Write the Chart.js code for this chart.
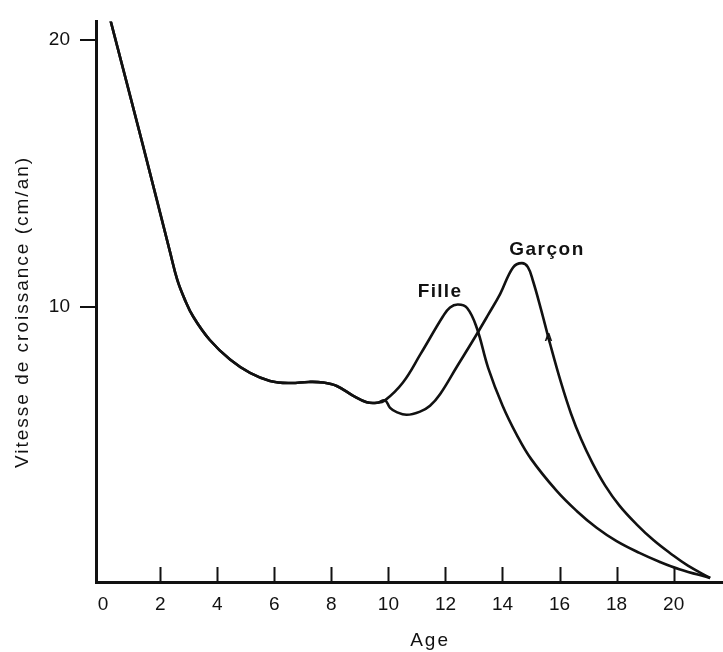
<!DOCTYPE html>
<html>
<head>
<meta charset="utf-8">
<script src="https://cdn.jsdelivr.net/npm/chart.js@4.4.1/dist/chart.umd.min.js"></script>
<style>
html, body { margin: 0; padding: 0; background: #fff; }
#wrap { width: 723px; height: 652px; position: relative; }
</style>
</head>
<body>
<div id="wrap"><canvas id="myChart"></canvas></div>
<script>
const xTicks = [0, 2, 4, 6, 8, 10, 12, 14, 16, 18, 20];
const yTicks = [10, 20];

// shared part of the curve (birth to ~10 years)
const commonAge   = [0.25, 1.4, 2.34, 2.6, 2.85, 3.16, 3.74, 4.45, 5.15, 5.85, 6.55, 7.2, 7.7, 8.19, 8.77, 9.24, 9.6, 9.88];
const commonSpeed = [20.75, 16.02, 12.07, 11.0, 10.3, 9.62, 8.75, 8.02, 7.52, 7.22, 7.14, 7.18, 7.16, 7.03, 6.66, 6.42, 6.4, 6.49];

const filleAge   = [10.51, 11.13, 11.91, 12.16, 12.44, 12.76, 13.1, 13.5, 14.0, 14.5, 15.0, 15.9, 16.6, 17.3, 18.0, 18.8, 19.5, 20.2, 21.28];
const filleSpeed = [7.16, 8.23, 9.63, 9.97, 10.08, 9.95, 9.2, 7.7, 6.3, 5.2, 4.3, 3.1, 2.35, 1.72, 1.22, 0.78, 0.45, 0.17, -0.16];

const garconAge   = [10.06, 10.29, 10.64, 11.11, 11.46, 11.81, 12.4, 12.97, 13.5, 13.92, 14.37, 14.68, 14.89, 15.07, 15.35, 15.67, 16.05, 16.4, 16.75, 17.15, 17.6, 18.1, 18.7, 19.3, 19.9, 20.5, 21.28];
const garconSpeed = [6.21, 6.05, 5.95, 6.07, 6.29, 6.72, 7.75, 8.74, 9.7, 10.48, 11.47, 11.63, 11.48, 10.96, 9.9, 8.6, 7.16, 6.0, 5.05, 4.15, 3.3, 2.55, 1.85, 1.25, 0.75, 0.3, -0.16];

const seriesNames = ['Fille', 'Garçon'];

function toPoints(ages, speeds) {
  return ages.map((a, i) => ({ x: a, y: speeds[i] }));
}

const ink = '#111';
const fontFamily = '"Liberation Sans", Arial, Helvetica, sans-serif';

// inward tick marks on the x axis, titles and curve labels
const decor = {
  id: 'decor',
  afterDraw(chart) {
    const c = chart.ctx;
    const xs = chart.scales.x, ys = chart.scales.y;
    const bottom = chart.chartArea.bottom;
    c.save();
    c.strokeStyle = ink;
    c.lineWidth = 2;
    xTicks.forEach(v => {
      if (v === 0) return;
      const px = Math.round(xs.getPixelForValue(v)) + 0.5;
      c.beginPath();
      c.moveTo(px, bottom);
      c.lineTo(px, bottom - 15);
      c.stroke();
    });

    c.fillStyle = ink;
    c.textAlign = 'center';
    c.textBaseline = 'middle';

    c.font = 'bold 19px ' + fontFamily;
    c.letterSpacing = '1.3px';
    c.fillText(seriesNames[0], xs.getPixelForValue(11.81), ys.getPixelForValue(10.55));
    c.letterSpacing = '1.5px';
    c.fillText(seriesNames[1], xs.getPixelForValue(15.56), ys.getPixelForValue(12.14));

    c.letterSpacing = '0px';
    c.font = 'bold 11px ' + fontFamily;
    c.fillText('A', xs.getPixelForValue(15.61), ys.getPixelForValue(8.82));

    c.font = '19px ' + fontFamily;
    c.letterSpacing = '2px';
    c.fillText('Age', xs.getPixelForValue(11.46), 641);

    c.translate(23, ys.getPixelForValue(9.8));
    c.rotate(-Math.PI / 2);
    c.fillText('Vitesse de croissance (cm/an)', 0, 0);
    c.restore();
  }
};

const ctx = document.getElementById('myChart');

new Chart(ctx, {
  type: 'line',
  data: {
    datasets: [
      { label: seriesNames[0], data: toPoints(commonAge.concat(filleAge), commonSpeed.concat(filleSpeed)) },
      { label: seriesNames[1], data: toPoints(commonAge.concat(garconAge), commonSpeed.concat(garconSpeed)) }
    ]
  },
  options: {
    responsive: true,
    maintainAspectRatio: false,
    animation: false,
    layout: { padding: { top: 14, right: 0, left: 0, bottom: 0 } },
    elements: {
      line: { borderColor: ink, borderWidth: 2.6, tension: 0.4, fill: false },
      point: { radius: 0, hoverRadius: 0 }
    },
    plugins: { legend: { display: false }, tooltip: { enabled: false } },
    scales: {
      x: {
        type: 'linear',
        min: -0.25,
        max: 21.73,
        afterBuildTicks: s => { s.ticks = xTicks.map(v => ({ value: v })); },
        afterFit: s => { s.height = 70; },
        grid: { display: false, drawTicks: false },
        border: { display: true, color: ink, width: 3 },
        ticks: { color: ink, padding: 11, maxRotation: 0, autoSkip: false, font: { family: fontFamily, size: 19 } }
      },
      y: {
        min: -0.31,
        max: 20.68,
        afterBuildTicks: s => { s.ticks = yTicks.map(v => ({ value: v })); },
        afterFit: s => { s.width = 96; },
        grid: { drawOnChartArea: false, drawTicks: true, tickLength: 16, color: ink, lineWidth: 2 },
        border: { display: true, color: ink, width: 3 },
        ticks: { color: ink, padding: 10, font: { family: fontFamily, size: 19 } }
      }
    }
  },
  plugins: [decor]
});
</script>
</body>
</html>
